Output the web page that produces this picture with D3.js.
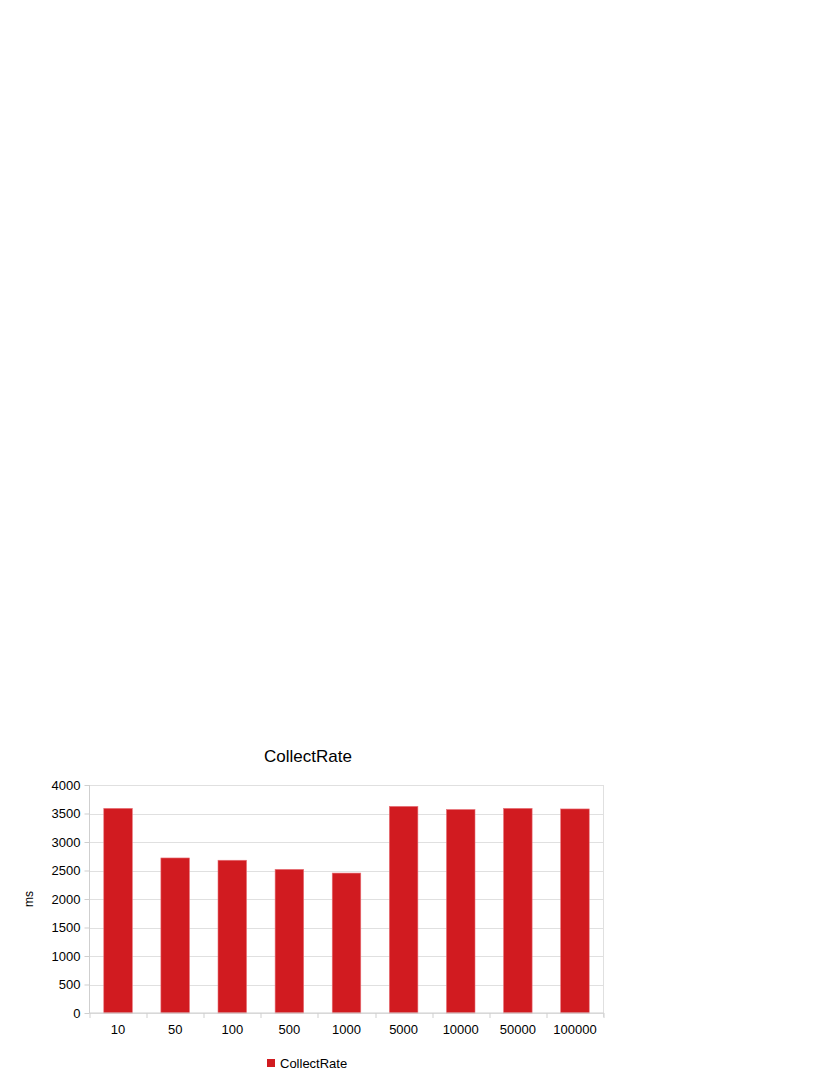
<!DOCTYPE html>
<html>
<head>
<meta charset="utf-8">
<script src="https://cdn.jsdelivr.net/npm/d3@7"></script>
<style>
html, body { margin: 0; padding: 0; background: #fff; overflow: hidden; }
svg { display: block; overflow: visible; }
text { font-family: "Liberation Sans", Arial, sans-serif; fill: #000; }
</style>
</head>
<body>
<svg id="viz" width="830" height="1075"></svg>
<script>
var categories = ["10", "50", "100", "500", "1000", "5000", "10000", "50000", "100000"];
var collectRate = [3590, 2720, 2680, 2520, 2455, 3625, 3570, 3590, 3580];
var yTicks = [0, 500, 1000, 1500, 2000, 2500, 3000, 3500, 4000];

var margin = { left: 89.5, top: 785, right: 226.5, bottom: 62 };
var innerWidth = 830 - margin.left - margin.right;
var innerHeight = 1075 - margin.top - margin.bottom;

var svg = d3.select("#viz");
var g = svg.append("g")
	.attr("transform", "translate(" + margin.left + "," + margin.top + ")");

var x = d3.scaleBand().domain(categories).range([0, innerWidth]).paddingInner(0.5).paddingOuter(0.25);
var xEdges = d3.scaleLinear().domain([0, categories.length]).range([0, innerWidth]);
var y = d3.scaleLinear().domain([0, 4000]).range([innerHeight, 0]);

// gridlines
g.selectAll(".grid").data(yTicks).enter().append("line")
	.attr("x1", 0).attr("x2", innerWidth)
	.attr("y1", function(d) { return Math.round(y(d)) + 0.5; })
	.attr("y2", function(d) { return Math.round(y(d)) + 0.5; })
	.attr("stroke", "#e0e0e0");

g.append("line")
	.attr("x1", innerWidth).attr("x2", innerWidth)
	.attr("y1", 0).attr("y2", innerHeight + 4)
	.attr("stroke", "#e0e0e0");

// bars
g.selectAll(".bar").data(collectRate).enter().append("rect")
	.attr("x", function(d, i) { return x(categories[i]); })
	.attr("width", x.bandwidth())
	.attr("y", function(d) { return y(d); })
	.attr("height", function(d) { return innerHeight - y(d); })
	.attr("fill", "#d11b20")
	.attr("stroke", "#e8737a")
	.attr("stroke-width", 0.6);

// y axis
var yAxis = d3.axisLeft(y).tickValues(yTicks).tickSize(5).tickPadding(4).tickFormat(d3.format("d"));
var ya = g.append("g").call(yAxis);
ya.attr("font-family", null).attr("font-size", null);
ya.select(".domain").attr("stroke", "#cfcfcf").attr("d", "M0,0V" + innerHeight);
ya.selectAll(".tick line").attr("stroke", "#cfcfcf");
ya.selectAll("text").style("font-size", "13px").attr("fill", "#000");

// x axis
var xa = g.append("g").attr("transform", "translate(0," + innerHeight + ")");
xa.append("line").attr("x1", 0).attr("x2", innerWidth).attr("stroke", "#cfcfcf");
xa.selectAll(".xt").data(d3.range(categories.length + 1)).enter().append("line")
	.attr("x1", function(d) { return Math.round(xEdges(d)) + 0.5; })
	.attr("x2", function(d) { return Math.round(xEdges(d)) + 0.5; })
	.attr("y1", 0).attr("y2", 5)
	.attr("stroke", "#cfcfcf");
xa.selectAll(".xl").data(categories).enter().append("text")
	.attr("x", function(d) { return x(d) + x.bandwidth() / 2; })
	.attr("y", 21)
	.attr("text-anchor", "middle")
	.style("font-size", "13px")
	.text(function(d) { return d; });

// title
svg.append("text")
	.attr("x", 308).attr("y", 762)
	.attr("text-anchor", "middle")
	.style("font-size", "17px")
	.text("CollectRate");

// y label
svg.append("text")
	.attr("transform", "translate(33," + (margin.top + innerHeight / 2) + ") rotate(-90)")
	.attr("text-anchor", "middle")
	.style("font-size", "12px")
	.text("ms");

// legend
svg.append("rect").attr("x", 267).attr("y", 1059).attr("width", 8).attr("height", 8).attr("fill", "#d11b20");
svg.append("text").attr("x", 280).attr("y", 1068).style("font-size", "13px").text("CollectRate");
</script>
</body>
</html>
